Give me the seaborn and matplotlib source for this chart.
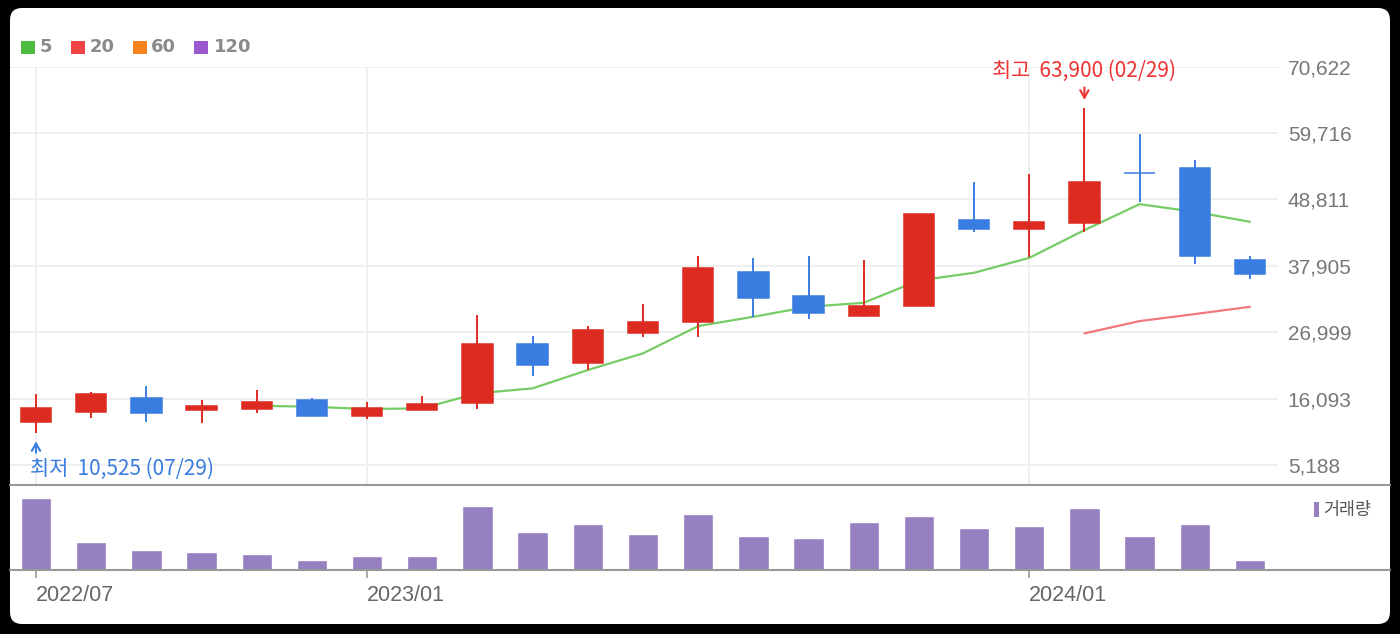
import numpy as np
import pandas as pd
import matplotlib.pyplot as plt
import matplotlib.transforms as mtransforms
import seaborn as sns
from matplotlib.patches import FancyBboxPatch, Rectangle
from matplotlib.lines import Line2D

W, H = 1400, 634

months = ["2022/07", "2022/08", "2022/09", "2022/10", "2022/11", "2022/12",
          "2023/01", "2023/02", "2023/03", "2023/04", "2023/05", "2023/06",
          "2023/07", "2023/08", "2023/09", "2023/10", "2023/11", "2023/12",
          "2024/01", "2024/02", "2024/03", "2024/04", "2024/05"]
opens  = [12300, 13950, 16150, 14250, 14350, 15860, 13300, 14220, 15350, 25000, 21900, 26800,
          28700, 36900, 32950, 29700, 31350, 45400, 43900, 44900, 53200, 53900, 38850]
highs  = [16850, 17200, 18150, 15850, 17500, 16250, 15600, 16500, 29900, 26350, 28050, 31600,
          39500, 39200, 39500, 38850, 46400, 51600, 52950, 63900, 59500, 55250, 39500]
lows   = [10525, 12950, 12300, 12050, 13700, 13280, 12700, 14200, 14350, 19850, 20800, 26150,
          26150, 29550, 29100, 29450, 31350, 43500, 39400, 43500, 48400, 38200, 35700]
closes = [14500, 16800, 13700, 14900, 15500, 13300, 14500, 15200, 25000, 21550, 27300, 28600,
          37500, 32700, 30100, 31300, 46400, 43900, 45100, 51600, 53100, 39550, 36600]
# 거래량 (만주)
volumes = [720, 283, 200, 183, 160, 100, 140, 140, 643, 383, 463, 363,
           563, 340, 320, 480, 543, 420, 440, 620, 340, 463, 100]
ma5_start = 4
ma5 = [14930, 14760, 14380, 14500, 16960, 17780, 20790, 23530, 28010, 29540,
       31180, 31840, 35510, 36770, 39220, 43770, 48040, 46780, 45140]
ma20_start = 19
ma20 = [26810, 28830, 29980, 31180]
y_ticks = [5188, 16093, 26999, 37905, 48811, 59716, 70622]
x_tick_months = ["2022/07", "2023/01", "2024/01"]
legend_labels = ["5", "20", "60", "120"]
legend_colors = ["#4dbb3d", "#ee4444", "#f5841f", "#9c58cf"]

UP, DOWN = "#de2b22", "#3a7de0"
VOL_COLOR = "#9680c0"

sns.set_theme(style="white")
plt.rcParams['font.family'] = ['Noto Sans CJK KR', 'DejaVu Sans']


def fig_box(x0, y0, x1, y1):
    # pixel box (top-left origin) -> figure fraction rect
    return [x0 / W, 1 - y1 / H, (x1 - x0) / W, (y1 - y0) / H]


fig = plt.figure(figsize=(W / 100, H / 100), dpi=100, facecolor="black")
card = FancyBboxPatch((0.10, (H - 624) / 100), 13.80, 6.16,
                      boxstyle="round,pad=0,rounding_size=0.12",
                      transform=fig.dpi_scale_trans, facecolor="white",
                      edgecolor="none", zorder=-10)
fig.patches.append(card)

ax = fig.add_axes(fig_box(10, 66.7, 1278, 485))
ax_vol = fig.add_axes(fig_box(10, 485, 1278, 570))
for a in (ax, ax_vol):
    a.set_facecolor("none")
    for s in a.spines.values():
        s.set_visible(False)

x = np.arange(len(months))
o, hi, lo, c = map(np.array, (opens, highs, lows, closes))
colors = [UP if cc >= oo else DOWN for oo, cc in zip(o, c)]

# candles
ax.vlines(x, lo, hi, colors=colors, linewidth=1.4, zorder=3)
ax.bar(x, np.abs(c - o), bottom=np.minimum(o, c), width=0.55, color=colors,
       edgecolor=colors, linewidth=1.1, zorder=4)

# moving averages
sns.lineplot(x=x[ma5_start:], y=ma5, ax=ax, color="#77cc66", linewidth=1.6, zorder=2)
sns.lineplot(x=x[ma20_start:], y=ma20, ax=ax, color="#f07878", linewidth=1.6, zorder=2)

xlim = (-0.471, 22.508)
ax.set_xlim(*xlim)
ax.set_ylim(1902, 70622)
ax.set_yticks(y_ticks)
ax.set_yticklabels([f"{v:,}" for v in y_ticks])
ax.yaxis.tick_right()
ax.tick_params(axis="y", length=0, pad=7, labelsize=15, labelcolor="#777777")
for lbl in ax.get_yticklabels():
    lbl.set_fontfamily("Liberation Sans")
tick_idx = [months.index(m) for m in x_tick_months]
ax.set_xticks(tick_idx)
ax.tick_params(axis="x", length=0, labelbottom=False)
ax.grid(True, color="#eeeeee", linewidth=1.3)
ax.set_axisbelow(True)
ax.set_xlabel("")
ax.set_ylabel("")

# high / low marks
i_hi = int(np.argmax(hi))
i_lo = int(np.argmin(lo))
up_off = lambda dy: mtransforms.offset_copy(ax.transData, fig=fig, x=0, y=dy, units="dots")
ax.annotate("", xy=(i_hi, hi[i_hi]), xycoords=up_off(5),
            xytext=(i_hi, hi[i_hi]), textcoords=up_off(23),
            arrowprops=dict(arrowstyle="->,head_length=0.45,head_width=0.25",
                            color="#ee3333", lw=1.5))
ax.annotate(f"최고  {hi[i_hi]:,} (02/29)", xy=(i_hi, hi[i_hi]), xycoords=up_off(37),
            ha="center", va="center", color="#ee3333", fontsize=15)
ax.annotate("", xy=(i_lo, lo[i_lo]), xycoords=up_off(-6),
            xytext=(i_lo, lo[i_lo]), textcoords=up_off(-23),
            arrowprops=dict(arrowstyle="->,head_length=0.45,head_width=0.25",
                            color=DOWN, lw=1.5))
ax.annotate(f"최저  {lo[i_lo]:,} (07/29)", xy=(i_lo, lo[i_lo]),
            xycoords=mtransforms.offset_copy(ax.transData, fig=fig, x=-6, y=-36, units="dots"),
            ha="left", va="center", color=DOWN, fontsize=15)

# volume
vol_df = pd.DataFrame({"idx": x, "volume": volumes})
sns.barplot(data=vol_df, x="idx", y="volume", color=VOL_COLOR, saturation=1,
            width=0.55, native_scale=True, errorbar=None, ax=ax_vol)
ax_vol.set_xlim(*xlim)
ax_vol.set_ylim(0, 850)
ax_vol.set_yticks([])
ax_vol.set_xlabel("")
ax_vol.set_ylabel("")
ax_vol.set_xticks(tick_idx)
ax_vol.set_xticklabels(x_tick_months)
ax_vol.tick_params(axis="x", bottom=True, length=6, width=1.2, color="#999999",
                   pad=5, labelsize=15.5, labelcolor="#666666")
for lbl in ax_vol.get_xticklabels():
    lbl.set_ha("left")
    lbl.set_fontfamily("Liberation Sans")

# panel separators
for yy in (485, 570):
    fig.add_artist(Line2D([10 / W, 1390 / W], [1 - yy / H] * 2, color="#999999", lw=1.5))

# MA legend
lx = [21, 71, 133, 194]
tx = [40, 90, 151, 214]
for xx, tt, lab, col in zip(lx, tx, legend_labels, legend_colors):
    fig.patches.append(Rectangle((xx / W, 1 - 53.5 / H), 13.5 / W, 13 / H,
                                 transform=fig.transFigure, facecolor=col, edgecolor="none"))
    fig.text(tt / W, 1 - 47 / H, lab, ha="left", va="center", fontsize=13,
             fontweight="bold", color="#8a8a8a", family="DejaVu Sans")

# volume legend
fig.patches.append(Rectangle((1314 / W, 1 - 517 / H), 5 / W, 15 / H,
                             transform=fig.transFigure, facecolor=VOL_COLOR, edgecolor="none"))
fig.text(1323 / W, 1 - 510 / H, "거래량", ha="left", va="center", fontsize=12.5, color="#555555")

fig.savefig("out.png", dpi=100, facecolor="black")
